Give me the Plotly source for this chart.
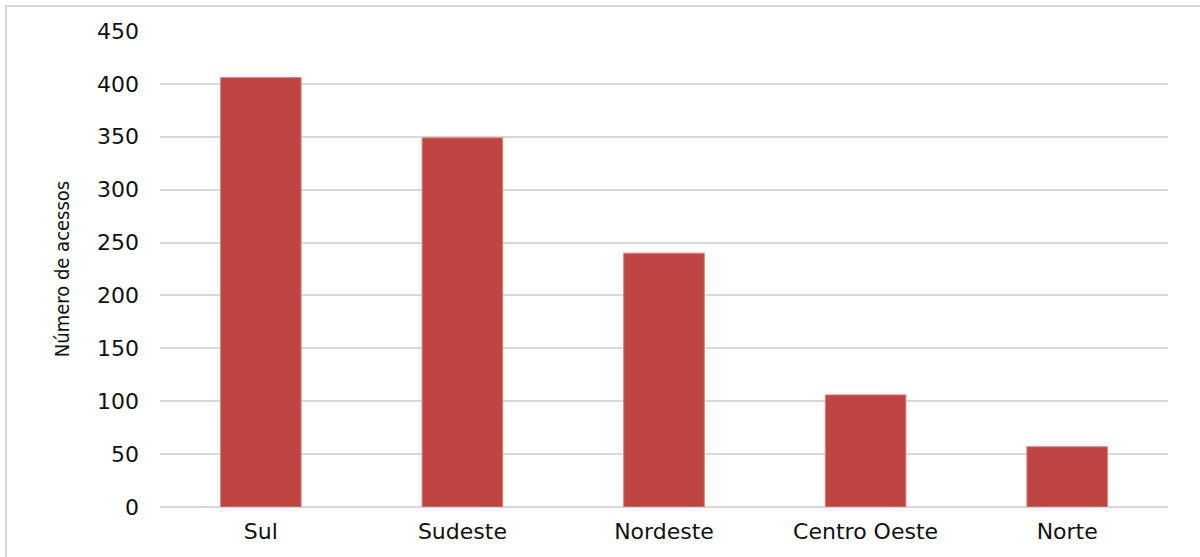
import plotly.graph_objects as go

categories = ["Sul", "Sudeste", "Nordeste", "Centro Oeste", "Norte"]
values = [406, 349, 240, 106, 57]
y_ticks = [0, 50, 100, 150, 200, 250, 300, 350, 400, 450]

fig = go.Figure(
    go.Bar(
        x=categories,
        y=values,
        marker=dict(color="#BE4542", line=dict(color="#D98583", width=1)),
        hoverinfo="x+y",
    )
)

W, H = 1200, 557
L, R, T, B = 160, 32, 31, 50
pw, ph = W - L - R, H - T - B

tick_font = dict(size=22, family="DejaVu Sans", color="#111111")

fig.update_layout(
    width=W,
    height=H,
    margin=dict(l=L, r=R, t=T, b=B, pad=0),
    paper_bgcolor="white",
    plot_bgcolor="white",
    bargap=0.6,
    showlegend=False,
    font=dict(family="DejaVu Sans, Liberation Sans, Arial", color="#1a1a1a"),
    xaxis=dict(
        showgrid=False,
        showline=False,
        ticks="",
        tickfont=tick_font,
        ticklabelstandoff=9,
    ),
    yaxis=dict(
        range=[0, 450],
        tickvals=y_ticks,
        ticktext=[str(v) for v in y_ticks],
        showgrid=True,
        gridcolor="#D9D9D9",
        gridwidth=1.5,
        zeroline=True,
        zerolinecolor="#D9D9D9",
        zerolinewidth=1.5,
        showline=False,
        ticks="",
        tickfont=tick_font,
        ticklabelstandoff=20,
        title=dict(
            text="Número de acessos",
            font=dict(size=20, family="Liberation Sans Narrow, DejaVu Sans Condensed, Arial Narrow", color="#111111"),
            standoff=22,
        ),
    ),
    shapes=[
        dict(
            type="rect",
            xref="paper",
            yref="paper",
            x0=(6 - L) / pw,
            x1=(1210 - L) / pw,
            y0=-(H + 10 - (H - B)) / ph,
            y1=1 + (T - 6) / ph,
            line=dict(color="#D9D9D9", width=2),
            fillcolor="rgba(0,0,0,0)",
            layer="below",
        )
    ],
)

fig.write_html("out.html")
